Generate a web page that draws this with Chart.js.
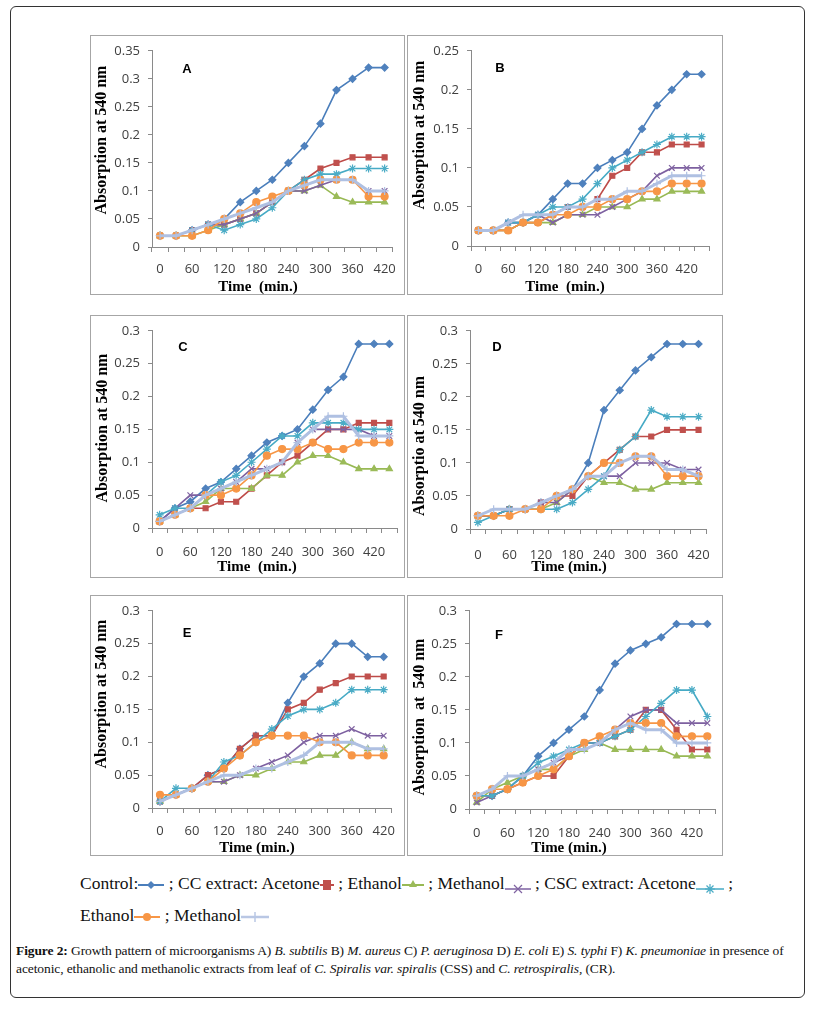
<!DOCTYPE html>
<html>
<head>
<meta charset="utf-8">
<script src="https://cdn.jsdelivr.net/npm/chart.js@4.4.1/dist/chart.umd.min.js"></script>
<style>
  body { margin: 0; background: #fff; width: 821px; height: 1010px; position: relative; overflow: hidden; }
  #frame { position: absolute; left: 10px; top: 6px; width: 795px; height: 992px; border: 1.5px solid #333; border-radius: 6px; box-sizing: border-box; }
  .box { position: absolute; border: 1.5px solid #a6a6a6; box-sizing: border-box; }
  canvas.panel { position: absolute; }
  #legend { position: absolute; left: 80px; top: 867px; font-family: "Liberation Serif", serif; font-size: 17.5px; color: #111; line-height: 32px; white-space: nowrap; }
  #legend svg { vertical-align: middle; }
  #caption { position: absolute; left: 16px; top: 942px; font-family: "Liberation Serif", serif; font-size: 13.5px; color: #111; line-height: 18px; white-space: nowrap; letter-spacing: -0.1px; }
</style>
</head>
<body>
<div id="frame"></div>
<div id="panels"></div>
<div id="legend">
  Control:<svg width="26" height="12"><line x1="0" y1="6" x2="26" y2="6" stroke="#4A7EBB" stroke-width="2"/><path d="M13 2 L17 6 L13 10 L9 6Z" fill="#4F81BD"/></svg> ; CC extract: Acetone<svg width="14" height="14"><line x1="0" y1="7" x2="14" y2="7" stroke="#BE4B48" stroke-width="2"/><rect x="3" y="2" width="8" height="10" fill="#C0504D"/></svg> ; Ethanol<svg width="22" height="12"><line x1="0" y1="6" x2="22" y2="6" stroke="#98B954" stroke-width="2"/><path d="M11 1 L15 8 L7 8Z" fill="#9BBB59"/></svg> ; Methanol<svg width="26" height="24"><line x1="0" y1="16" x2="26" y2="16" stroke="#7D60A0" stroke-width="1.5"/><path d="M9 12 L17 20 M17 12 L9 20" stroke="#8064A2" stroke-width="1.2"/></svg> ; CSC extract: Acetone<svg width="28" height="24"><line x1="0" y1="16" x2="28" y2="16" stroke="#46AAC5" stroke-width="1.5"/><path d="M14 11 L14 21 M9 16 L19 16 M10.5 12.5 L17.5 19.5 M17.5 12.5 L10.5 19.5" stroke="#4BACC6" stroke-width="1.2"/></svg> ;<br>
  Ethanol<svg width="26" height="12"><line x1="0" y1="6" x2="26" y2="6" stroke="#F79646" stroke-width="2"/><circle cx="13" cy="6" r="4" fill="#F79646"/></svg> ; Methanol<svg width="28" height="14"><line x1="0" y1="7" x2="28" y2="7" stroke="#B9C7E4" stroke-width="2.5"/><path d="M14 2 L14 12" stroke="#B9C7E4" stroke-width="1.5"/></svg>
</div>
<div id="caption"><b>Figure 2:</b> Growth pattern of microorganisms A) <i>B. subtilis</i> B) <i>M. aureus</i> C) <i>P. aeruginosa</i> D) <i>E. coli</i> E) <i>S. typhi</i> F) <i>K. pneumoniae</i> in presence of<br>acetonic, ethanolic and methanolic extracts from leaf of <i>C. Spiralis var. spiralis</i> (CSS) and <i>C. retrospiralis,</i> (CR).</div>
<script>
// time points (min.)
const timeLabels15 = ['0', '30', '60', '90', '120', '150', '180', '210', '240', '270', '300', '330', '360', '390', '420'];
const timeLabels16 = ['0', '30', '60', '90', '120', '150', '180', '210', '240', '270', '300', '330', '360', '390', '420', '450'];

// A) B. subtilis
const controlA    = [0.02, 0.02, 0.03, 0.04, 0.05, 0.08, 0.10, 0.12, 0.15, 0.18, 0.22, 0.28, 0.30, 0.32, 0.32];
const ccAcetoneA  = [0.02, 0.02, 0.03, 0.04, 0.04, 0.05, 0.06, 0.08, 0.10, 0.12, 0.14, 0.15, 0.16, 0.16, 0.16];
const ccEthanolA  = [0.02, 0.02, 0.02, 0.03, 0.04, 0.05, 0.06, 0.08, 0.10, 0.10, 0.11, 0.09, 0.08, 0.08, 0.08];
const ccMethanolA = [0.02, 0.02, 0.03, 0.04, 0.04, 0.05, 0.06, 0.08, 0.10, 0.10, 0.11, 0.12, 0.12, 0.10, 0.10];
const cscAcetoneA = [0.02, 0.02, 0.03, 0.04, 0.03, 0.04, 0.05, 0.07, 0.10, 0.12, 0.13, 0.13, 0.14, 0.14, 0.14];
const cscEthanolA = [0.02, 0.02, 0.02, 0.03, 0.05, 0.06, 0.08, 0.09, 0.10, 0.11, 0.12, 0.12, 0.12, 0.09, 0.09];
const cscMethanolA = [0.02, 0.02, 0.03, 0.04, 0.05, 0.06, 0.07, 0.08, 0.10, 0.11, 0.12, 0.12, 0.12, 0.10, 0.10];

// B) M. aureus
const controlB    = [0.02, 0.02, 0.03, 0.03, 0.04, 0.06, 0.08, 0.08, 0.10, 0.11, 0.12, 0.15, 0.18, 0.20, 0.22, 0.22];
const ccAcetoneB  = [0.02, 0.02, 0.02, 0.03, 0.03, 0.04, 0.05, 0.05, 0.06, 0.09, 0.10, 0.12, 0.12, 0.13, 0.13, 0.13];
const ccEthanolB  = [0.02, 0.02, 0.02, 0.03, 0.03, 0.03, 0.04, 0.04, 0.05, 0.05, 0.05, 0.06, 0.06, 0.07, 0.07, 0.07];
const ccMethanolB = [0.02, 0.02, 0.03, 0.03, 0.04, 0.03, 0.04, 0.04, 0.04, 0.05, 0.06, 0.07, 0.09, 0.10, 0.10, 0.10];
const cscAcetoneB = [0.02, 0.02, 0.03, 0.03, 0.04, 0.05, 0.05, 0.06, 0.08, 0.10, 0.11, 0.12, 0.13, 0.14, 0.14, 0.14];
const cscEthanolB = [0.02, 0.02, 0.02, 0.03, 0.03, 0.04, 0.04, 0.05, 0.05, 0.06, 0.06, 0.07, 0.07, 0.08, 0.08, 0.08];
const cscMethanolB = [0.02, 0.02, 0.03, 0.04, 0.04, 0.04, 0.05, 0.05, 0.06, 0.06, 0.07, 0.07, 0.08, 0.09, 0.09, 0.09];

// C) P. aeruginosa
const controlC    = [0.01, 0.03, 0.04, 0.06, 0.07, 0.09, 0.11, 0.13, 0.14, 0.15, 0.18, 0.21, 0.23, 0.28, 0.28, 0.28];
const ccAcetoneC  = [0.01, 0.02, 0.03, 0.03, 0.04, 0.04, 0.06, 0.08, 0.10, 0.11, 0.13, 0.15, 0.15, 0.16, 0.16, 0.16];
const ccEthanolC  = [0.01, 0.02, 0.03, 0.04, 0.06, 0.06, 0.06, 0.08, 0.08, 0.10, 0.11, 0.11, 0.10, 0.09, 0.09, 0.09];
const ccMethanolC = [0.01, 0.03, 0.05, 0.05, 0.06, 0.07, 0.09, 0.09, 0.10, 0.13, 0.15, 0.15, 0.15, 0.15, 0.14, 0.14];
const cscAcetoneC = [0.02, 0.03, 0.03, 0.05, 0.07, 0.08, 0.10, 0.12, 0.14, 0.14, 0.16, 0.16, 0.16, 0.15, 0.15, 0.15];
const cscEthanolC = [0.01, 0.02, 0.03, 0.05, 0.05, 0.06, 0.08, 0.11, 0.12, 0.12, 0.13, 0.12, 0.12, 0.13, 0.13, 0.13];
const cscMethanolC = [0.01, 0.02, 0.03, 0.05, 0.06, 0.07, 0.08, 0.09, 0.10, 0.13, 0.15, 0.17, 0.17, 0.14, 0.14, 0.14];

// D) E. coli
const controlD    = [0.02, 0.02, 0.03, 0.03, 0.04, 0.05, 0.06, 0.10, 0.18, 0.21, 0.24, 0.26, 0.28, 0.28, 0.28];
const ccAcetoneD  = [0.02, 0.02, 0.03, 0.03, 0.04, 0.05, 0.05, 0.08, 0.10, 0.12, 0.14, 0.14, 0.15, 0.15, 0.15];
const ccEthanolD  = [0.02, 0.02, 0.03, 0.03, 0.03, 0.04, 0.06, 0.08, 0.07, 0.07, 0.06, 0.06, 0.07, 0.07, 0.07];
const ccMethanolD = [0.02, 0.02, 0.03, 0.03, 0.04, 0.04, 0.06, 0.08, 0.08, 0.08, 0.10, 0.10, 0.10, 0.09, 0.09];
const cscAcetoneD = [0.01, 0.02, 0.03, 0.03, 0.03, 0.03, 0.04, 0.06, 0.08, 0.12, 0.14, 0.18, 0.17, 0.17, 0.17];
const cscEthanolD = [0.02, 0.02, 0.02, 0.03, 0.03, 0.05, 0.06, 0.08, 0.10, 0.10, 0.11, 0.11, 0.08, 0.08, 0.08];
const cscMethanolD = [0.02, 0.03, 0.03, 0.03, 0.04, 0.05, 0.06, 0.08, 0.08, 0.10, 0.11, 0.11, 0.09, 0.09, 0.08];

// E) S. typhi
const controlE    = [0.01, 0.02, 0.03, 0.05, 0.06, 0.09, 0.11, 0.11, 0.16, 0.20, 0.22, 0.25, 0.25, 0.23, 0.23];
const ccAcetoneE  = [0.01, 0.02, 0.03, 0.05, 0.06, 0.09, 0.11, 0.11, 0.15, 0.16, 0.18, 0.19, 0.20, 0.20, 0.20];
const ccEthanolE  = [0.01, 0.02, 0.03, 0.04, 0.04, 0.05, 0.05, 0.06, 0.07, 0.07, 0.08, 0.08, 0.10, 0.09, 0.09];
const ccMethanolE = [0.01, 0.02, 0.03, 0.04, 0.04, 0.05, 0.06, 0.07, 0.08, 0.10, 0.11, 0.11, 0.12, 0.11, 0.11];
const cscAcetoneE = [0.01, 0.03, 0.03, 0.04, 0.07, 0.08, 0.10, 0.12, 0.14, 0.15, 0.15, 0.16, 0.18, 0.18, 0.18];
const cscEthanolE = [0.02, 0.02, 0.03, 0.04, 0.06, 0.08, 0.10, 0.11, 0.11, 0.11, 0.10, 0.10, 0.08, 0.08, 0.08];
const cscMethanolE = [0.01, 0.02, 0.03, 0.04, 0.05, 0.05, 0.06, 0.06, 0.07, 0.08, 0.10, 0.10, 0.10, 0.09, 0.09];

// F) K. pneumoniae
const controlF    = [0.02, 0.02, 0.03, 0.05, 0.08, 0.10, 0.12, 0.14, 0.18, 0.22, 0.24, 0.25, 0.26, 0.28, 0.28, 0.28];
const ccAcetoneF  = [0.02, 0.02, 0.03, 0.04, 0.05, 0.05, 0.08, 0.10, 0.10, 0.11, 0.12, 0.15, 0.15, 0.12, 0.09, 0.09];
const ccEthanolF  = [0.01, 0.03, 0.04, 0.05, 0.06, 0.06, 0.08, 0.09, 0.10, 0.09, 0.09, 0.09, 0.09, 0.08, 0.08, 0.08];
const ccMethanolF = [0.01, 0.02, 0.03, 0.05, 0.06, 0.07, 0.08, 0.10, 0.10, 0.12, 0.14, 0.15, 0.15, 0.13, 0.13, 0.13];
const cscAcetoneF = [0.02, 0.02, 0.03, 0.05, 0.07, 0.08, 0.09, 0.10, 0.10, 0.11, 0.12, 0.14, 0.16, 0.18, 0.18, 0.14];
const cscEthanolF = [0.02, 0.03, 0.03, 0.04, 0.05, 0.06, 0.08, 0.10, 0.11, 0.12, 0.13, 0.13, 0.13, 0.11, 0.11, 0.11];
const cscMethanolF = [0.02, 0.03, 0.05, 0.05, 0.06, 0.07, 0.09, 0.09, 0.10, 0.12, 0.13, 0.12, 0.12, 0.10, 0.10, 0.10];

const seriesNames = ['Control', 'CC Acetone', 'CC Ethanol', 'CC Methanol', 'CSC Acetone', 'CSC Ethanol', 'CSC Methanol'];

// look of each series (Excel 2007 palette)
const styles = [
  { line: '#4A7EBB', fill: '#4F81BD', point: 'rectRot', r: 3.5, w: 1.6 },
  { line: '#BE4B48', fill: '#C0504D', point: 'rect', r: 3.5, w: 1.6 },
  { line: '#98B954', fill: '#9BBB59', point: 'triangle', r: 3.5, w: 1.6 },
  { line: '#7D60A0', fill: '#8064A2', point: 'crossRot', r: 4, w: 1.6 },
  { line: '#46AAC5', fill: '#4BACC6', point: 'star', r: 4, w: 1.6 },
  { line: '#F79646', fill: '#F79646', point: 'circle', r: 3.5, w: 1.6 },
  { line: '#AFC0E2', fill: '#AFC0E2', point: 'cross', r: 4, w: 3 }
];

const panels = [
  { letter: 'A', labels: timeLabels15, yMax: 0.35,
    data: [controlA, ccAcetoneA, ccEthanolA, ccMethanolA, cscAcetoneA, cscEthanolA, cscMethanolA],
    box: { x: 90, y: 35, w: 315, h: 260 }, area: { l: 152, r: 398, t: 45, b: 247 }, xPad: 9,
    letterAt: [187, 69], xTitle: 'Time  (min.)', xTitleAt: [258, 287], yTitle: 'Absorption at 540 nm', yTitleAt: [102, 140] },
  { letter: 'B', labels: timeLabels16, yMax: 0.25,
    data: [controlB, ccAcetoneB, ccEthanolB, ccMethanolB, cscAcetoneB, cscEthanolB, cscMethanolB],
    box: { x: 407, y: 35, w: 316, h: 260 }, area: { l: 471, r: 709, t: 48, b: 246 }, xPad: 10,
    letterAt: [500, 68], xTitle: 'Time  (min.)', xTitleAt: [565, 287], yTitle: 'Absorption at 540 nm', yTitleAt: [420, 135] },
  { letter: 'C', labels: timeLabels16, yMax: 0.3,
    data: [controlC, ccAcetoneC, ccEthanolC, ccMethanolC, cscAcetoneC, cscEthanolC, cscMethanolC],
    box: { x: 90, y: 315, w: 315, h: 263 }, area: { l: 152, r: 397, t: 325, b: 528 }, xPad: 11,
    letterAt: [183, 347], xTitle: 'Time  (min.)', xTitleAt: [257, 567], yTitle: 'Absorption at 540 nm', yTitleAt: [103, 428] },
  { letter: 'D', labels: timeLabels15, yMax: 0.3,
    data: [controlD, ccAcetoneD, ccEthanolD, ccMethanolD, cscAcetoneD, cscEthanolD, cscMethanolD],
    box: { x: 407, y: 315, w: 316, h: 263 }, area: { l: 470, r: 714, t: 323, b: 529 }, xPad: 13,
    letterAt: [497, 347], xTitle: 'Time (min.)', xTitleAt: [569, 567], yTitle: 'Absorptio at 540 nm', yTitleAt: [420, 446] },
  { letter: 'E', labels: timeLabels15, yMax: 0.3,
    data: [controlE, ccAcetoneE, ccEthanolE, ccMethanolE, cscAcetoneE, cscEthanolE, cscMethanolE],
    box: { x: 90, y: 595, w: 315, h: 261 }, area: { l: 152, r: 400, t: 605, b: 808 }, xPad: 10,
    letterAt: [187, 633], xTitle: 'Time (min.)', xTitleAt: [257, 848], yTitle: 'Absorption at 540 nm', yTitleAt: [102, 694] },
  { letter: 'F', labels: timeLabels16, yMax: 0.3,
    data: [controlF, ccAcetoneF, ccEthanolF, ccMethanolF, cscAcetoneF, cscEthanolF, cscMethanolF],
    box: { x: 407, y: 595, w: 316, h: 261 }, area: { l: 469, r: 715, t: 609, b: 809 }, xPad: 11,
    letterAt: [499, 635], xTitle: 'Time (min.)', xTitleAt: [569, 848], yTitle: 'Absorption  at  540 nm', yTitleAt: [420, 717] }
];

// letter, axis titles drawn at fixed spots like the original figure
const panelText = {
  id: 'panelText',
  afterDraw(chart, args, o) {
    const ctx = chart.ctx;
    ctx.save();
    ctx.fillStyle = '#000';
    ctx.textAlign = 'center';
    ctx.textBaseline = 'middle';
    ctx.font = 'bold 13px "Liberation Sans"';
    ctx.fillText(o.letter, o.letterAt[0] - o.ox, o.letterAt[1] - o.oy);
    ctx.font = 'bold 15px "Liberation Serif"';
    ctx.fillText(o.xTitle, o.xTitleAt[0] - o.ox, o.xTitleAt[1] - o.oy);
    ctx.translate(o.yTitleAt[0] - o.ox, o.yTitleAt[1] - o.oy);
    ctx.rotate(-Math.PI / 2);
    ctx.font = 'bold 16px "Liberation Serif"';
    ctx.fillText(o.yTitle, 0, 0);
    ctx.restore();
  }
};

const holder = document.getElementById('panels');
const tickFont = { family: '"Open Sans"', size: 13 };
const tickColor = '#404040';
const axisColor = '#8a8a8a';

panels.forEach((p) => {
  const frame = document.createElement('div');
  frame.className = 'box';
  frame.style.left = p.box.x + 'px';
  frame.style.top = p.box.y + 'px';
  frame.style.width = p.box.w + 'px';
  frame.style.height = p.box.h + 'px';
  holder.appendChild(frame);

  const canvas = document.createElement('canvas');
  canvas.className = 'panel';
  canvas.width = p.box.w;
  canvas.height = p.box.h;
  canvas.style.left = p.box.x + 'px';
  canvas.style.top = p.box.y + 'px';
  holder.appendChild(canvas);

  const datasets = p.data.map((values, i) => ({
    label: seriesNames[i],
    data: values,
    borderColor: styles[i].line,
    backgroundColor: styles[i].fill,
    borderWidth: styles[i].w,
    pointStyle: styles[i].point,
    pointRadius: styles[i].r,
    pointBorderColor: styles[i].fill,
    pointBackgroundColor: styles[i].fill,
    pointBorderWidth: 1.2,
    tension: 0,
    fill: false,
    order: 7 - i
  }));

  new Chart(canvas, {
    type: 'line',
    data: { labels: p.labels, datasets: datasets },
    options: {
      responsive: false,
      animation: false,
      layout: { padding: { left: 0, top: p.area.t - p.box.y, right: p.box.x + p.box.w - p.area.r, bottom: 0 } },
      plugins: {
        legend: { display: false },
        tooltip: { enabled: false },
        panelText: { ox: p.box.x, oy: p.box.y, letter: p.letter, letterAt: p.letterAt,
          xTitle: p.xTitle, xTitleAt: p.xTitleAt, yTitle: p.yTitle, yTitleAt: p.yTitleAt }
      },
      scales: {
        x: {
          type: 'category',
          offset: true,
          grid: { offset: true, drawOnChartArea: false, tickLength: 5, color: axisColor },
          border: { color: axisColor },
          ticks: {
            autoSkip: false, maxRotation: 0, padding: p.xPad, font: tickFont, color: tickColor,
            callback: function (v, i) { return i % 2 === 0 ? this.getLabelForValue(v) : ''; }
          },
          afterFit: (s) => { s.height = p.box.y + p.box.h - p.area.b; }
        },
        y: {
          min: 0,
          max: p.yMax,
          grid: { drawOnChartArea: false, tickLength: 4, color: axisColor },
          border: { color: axisColor },
          ticks: { stepSize: 0.05, padding: 8, font: tickFont, color: tickColor,
            callback: (v) => String(+v.toFixed(2)) },
          afterFit: (s) => { s.width = p.area.l - p.box.x; }
        }
      }
    },
    plugins: [panelText]
  });
});
</script>
</body>
</html>
